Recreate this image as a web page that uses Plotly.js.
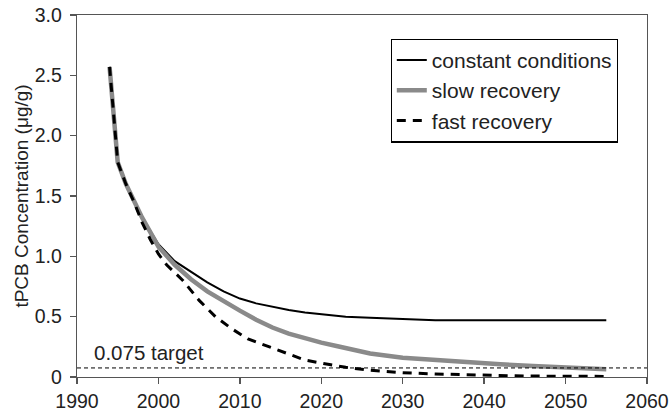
<!DOCTYPE html>
<html>
<head>
<meta charset="utf-8">
<script src="https://cdn.plot.ly/plotly-3.0.1.min.js"></script>
<style>html,body{margin:0;padding:0;background:#fff;}#chart{width:670px;height:416px;}</style>
</head>
<body>
<div id="chart"></div>
<script>
// Data
var yearsConstant = [1994,1995,1996,1997,1998,1999,2000,2002,2004,2006,2008,2010,2012,2014,2016,2018,2020,2023,2026,2030,2034,2040,2045,2050,2055];
var constantConditions = [2.57,1.78,1.60,1.45,1.32,1.21,1.10,0.96,0.875,0.785,0.71,0.65,0.61,0.58,0.555,0.535,0.52,0.50,0.49,0.478,0.47,0.47,0.47,0.47,0.47];

var yearsSlow = [1994,1995,1996,1997,1998,1999,2000,2002,2004,2006,2008,2010,2012,2014,2016,2018,2020,2022,2026,2030,2034,2038,2042,2046,2050,2055];
var slowRecovery = [2.57,1.78,1.60,1.45,1.32,1.20,1.08,0.93,0.81,0.71,0.625,0.55,0.475,0.41,0.36,0.32,0.285,0.255,0.195,0.16,0.14,0.12,0.105,0.092,0.08,0.065];

var yearsFast = [1994,1995,1996,1997,1998,1999,2000,2001,2003,2005,2007,2009,2011,2014,2016,2018,2021,2023,2026,2030,2034,2040,2045,2050,2055];
var fastRecovery = [2.57,1.78,1.60,1.45,1.28,1.14,1.02,0.93,0.80,0.635,0.50,0.40,0.315,0.24,0.19,0.14,0.103,0.08,0.056,0.035,0.025,0.014,0.008,0.006,0.005];

var targetYears = [1990, 2060];
var targetValue = 0.075;

var xTicks = [1990,2000,2010,2020,2030,2040,2050,2060];
var yTickVals = [0,0.5,1.0,1.5,2.0,2.5,3.0];
var yTickText = ["0","0.5","1.0","1.5","2.0","2.5","3.0"];

var font = "Liberation Sans, Arial, sans-serif";

var traces = [
  {x: yearsConstant, y: constantConditions, name: "constant conditions", mode: "lines",
   line: {color: "#000", width: 2}, legendgroup: "a"},
  {x: yearsSlow, y: slowRecovery, name: "slow recovery", mode: "lines",
   line: {color: "#8a8a8a", width: 4.5}, legendgroup: "b"},
  {x: yearsFast, y: fastRecovery, name: "fast recovery", mode: "lines",
   line: {color: "#000", width: 3, dash: "9px,7px"}, legendgroup: "c"},
  {x: targetYears, y: targetYears.map(function(){return targetValue;}), mode: "lines",
   line: {color: "#000", width: 1, dash: "4px,3px"}, showlegend: false, hoverinfo: "skip"}
];

var axisCommon = {
  showline: true, linecolor: "#555", linewidth: 1.3, mirror: true,
  ticks: "outside", ticklen: 6, tickcolor: "#555", tickwidth: 1.3,
  showgrid: false, zeroline: false,
  tickfont: {family: font, size: 19.5, color: "#222"}
};

var layout = {
  width: 670, height: 416,
  margin: {l: 77, r: 23, t: 15, b: 39},
  paper_bgcolor: "#fff", plot_bgcolor: "#fff",
  showlegend: true,
  xaxis: Object.assign({}, axisCommon, {range: [1990, 2060], tickvals: xTicks, ticktext: xTicks.map(String)}),
  yaxis: Object.assign({}, axisCommon, {range: [0, 3], tickvals: yTickVals, ticktext: yTickText,
    ticklabelstandoff: 4,
    title: {text: "tPCB Concentration (μg/g)", font: {family: font, size: 19, color: "#222"}, standoff: 1}}),
  legend: {x: 0.55, y: 0.935, xanchor: "left", yanchor: "top",
    bordercolor: "#000", borderwidth: 1.3, bgcolor: "#fff",
    font: {family: font, size: 21, color: "#222"}, tracegroupgap: 0, itemwidth: 30},
  annotations: [{x: 1991.9, y: targetValue, xref: "x", yref: "y", xanchor: "left", yanchor: "bottom",
    yshift: 2, text: "0.075 target", showarrow: false, font: {family: font, size: 20.5, color: "#222"}}]
};

Plotly.newPlot("chart", traces, layout, {displayModeBar: false, staticPlot: true});
</script>
</body>
</html>
